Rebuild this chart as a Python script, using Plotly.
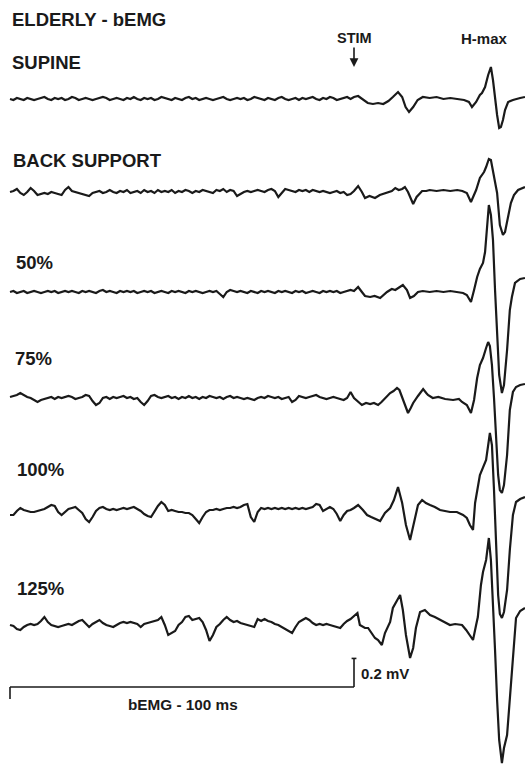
import plotly.graph_objects as go

# ---------------- data (time in ms, amplitude in microvolts) ----------------
TRACE_NAMES = ["SUPINE", "BACK SUPPORT", "50%", "75%", "100%", "125%"]
LABEL_TEXTS = ["<b>SUPINE</b>", "<b>BACK SUPPORT</b>", "<b>50%</b>", "<b>75%</b>", "<b>100%</b>", "<b>125%</b>"]

# pre-stimulus background EMG, sampled every 1 ms from 0 to 100 ms
PRE_T = [0, 1, 2, 3, 4, 5, 6, 7, 8, 9,
         10, 11, 12, 13, 14, 15, 16, 17, 18, 19,
         20, 21, 22, 23, 24, 25, 26, 27, 28, 29,
         30, 31, 32, 33, 34, 35, 36, 37, 38, 39,
         40, 41, 42, 43, 44, 45, 46, 47, 48, 49,
         50, 51, 52, 53, 54, 55, 56, 57, 58, 59,
         60, 61, 62, 63, 64, 65, 66, 67, 68, 69,
         70, 71, 72, 73, 74, 75, 76, 77, 78, 79,
         80, 81, 82, 83, 84, 85, 86, 87, 88, 89,
         90, 91, 92, 93, 94, 95, 96, 97, 98, 99,
         100]

supine_pre = [0, -7, 7, 0, -7, 7, 0, -7, 0, 7,
              14, 0, -7, 7, 0, 7, -7, 0, 14, 7,
              -7, 0, 7, 0, -7, 0, 7, 14, 7, -7,
              0, 7, 0, -7, 7, 0, 14, 0, -7, 7,
              0, 7, -7, 0, 14, 7, 0, -7, 7, 0,
              -7, 7, 14, 0, 7, -7, 0, 7, 0, -7,
              0, 7, 14, 0, -7, 0, 7, 0, 7, -7,
              0, 14, 7, 0, -7, 7, 0, -7, 7, 14,
              0, -7, 0, 7, -7, 7, 0, 7, 14, 0,
              -7, 7, 0, 14, 7, -7, 0, 7, 14, 0,
              14]
supine_post_t = [101.2, 102.5, 104, 105.5, 107, 108.5, 110, 111.3, 112.8, 114, 115, 116, 117.2, 118.5,
                 120, 122, 124, 126, 128, 130, 132, 133.4, 134.3, 135.5, 136.6, 137.2, 138.1, 139,
                 139.8, 140.4, 141, 141.6, 142.2, 142.7, 143.3, 143.9, 144.8, 146.2, 148.3, 149.7]
supine_post_v = [21, 0, -28, -35, -28, -35, -14, 14, 49, 14, -56, -91, -56, -7,
                 14, 7, 14, 0, 7, 0, -7, -21, -56, -21, 28, 42, 84, 168,
                 224, 133, -7, -112, -203, -196, -147, -77, -21, -7, 7, 14]

back_pre = [0, 7, 21, -7, -21, 0, 28, 7, -21, -14,
            -7, -14, 0, -7, -14, -21, 14, 35, 7, 0,
            -7, -14, -21, -28, -7, 0, 7, -7, 0, 14,
            0, -7, 7, 0, 14, -7, 0, 7, -7, 14,
            0, 7, -7, 14, 0, 7, 0, 14, -7, 7,
            0, 14, 7, -7, 7, 0, 14, 7, 0, -7,
            14, 7, 21, 0, 14, 7, -28, -14, 0, 7,
            0, 7, 14, 7, 0, 14, 21, 7, -35, -7,
            21, 14, 7, 0, 14, 7, 14, 0, 14, 7,
            0, 7, 0, -7, 0, 7, -7, 0, -21, -14,
            7]
back_post_t = [101.2, 102.3, 103.2, 104.5, 106.1, 107.5, 109.6, 111, 112, 113, 114, 114.8, 115.7,
               116.5, 117.2, 118.2, 119.8, 121, 122, 124, 126, 128, 130, 131.5, 132.8, 134, 135.5,
               136.6, 137.8, 138.4, 139.2, 139.8, 140.7, 141.6, 142.4, 143.3, 143.9, 144.8, 145.6,
               146.5, 147.7, 149.7]
back_post_v = [42, 0, -42, -28, -42, -21, -7, 7, 28, 14, 21, 35, 0,
               -49, -84, -35, 7, 7, 14, 7, 14, 7, 14, 7, -7, -70, 14,
               98, 140, 175, 231, 224, 119, -7, -231, -301, -280, -175, -77,
               -21, 14, 35]

p50_pre = [0, 7, -7, 0, 7, -7, 0, 7, 0, -7,
           0, 7, 0, 7, -7, 0, 7, 0, 7, 0,
           -7, 7, 0, 7, 0, -7, 7, 14, 0, 7,
           0, -7, 7, 0, 7, 0, 7, -7, 0, 7,
           0, 7, -7, 0, 7, 0, -7, 7, 0, 7,
           0, -7, 7, 0, 7, 0, -7, 0, 7, 0,
           7, -14, -35, 0, 14, 7, 0, 7, 0, -7,
           7, 0, -7, 7, 0, 7, 0, -7, 7, 0,
           7, 0, -7, 7, 0, 7, -7, 0, 7, 0,
           -7, 7, 0, 7, 0, 7, -7, 0, 7, 14,
           7]
p50_post_t = [101.2, 102.3, 103.2, 104.7, 106, 107.6, 108.5, 109.6, 110.5, 111, 112, 112.8, 114.2,
              115.4, 116.3, 117.4, 118.6, 120, 122, 124, 126, 128, 130, 131.7, 132.8, 134, 134.9,
              135.8, 136.6, 137.5, 138.1, 138.7, 139.2, 139.8, 140.4, 141, 141.6, 142.2, 143, 143.6,
              144.5, 145.3, 145.9, 146.8, 148.3, 149.7]
p50_post_v = [35, 0, -28, -35, -28, -42, -21, 0, 14, 21, 14, 28, 49,
              14, -42, -28, 0, 7, 0, 7, 0, 7, 0, -7, -21, -70, 14,
              105, 161, 203, 280, 448, 609, 539, 364, 14, -301, -581, -707, -651,
              -406, -126, -35, 63, 91, 98]

p75_pre = [7, 14, 21, 35, 21, 7, 0, -14, -28, -14,
           -7, 0, 7, -7, 7, 0, 7, 14, 7, -7,
           0, 7, 21, 14, -21, -49, -35, 0, 7, -7,
           7, 0, 7, 14, 0, 7, -7, 0, -28, -49,
           -21, 14, 21, 7, 0, 7, 14, 0, 7, -7,
           7, 0, 14, 0, 7, -7, 7, 0, 14, 7,
           0, 7, -7, 7, 14, 0, 7, 0, -7, 0,
           -7, -14, 0, 7, 0, 14, 7, 0, 7, -7,
           0, 7, -28, -14, 14, 7, 0, 7, 14, 21,
           7, 0, -7, 0, 7, 0, -7, -14, 0, 42,
           0]
p75_post_t = [101.2, 102.3, 103.5, 104.7, 105.8, 107, 108, 109, 110.5, 111.5, 112.5, 113.2, 114, 115,
              115.7, 116.5, 117.2, 118.6, 120.1, 121, 121.5, 122.9, 124.5, 126.5, 128.8, 130.5, 131.4,
              132.8, 134, 134.9, 135.8, 136.6, 137.5, 138.4, 139, 139.5, 140.1, 140.7, 141.3, 141.9,
              142.4, 143, 143.6, 144.5, 145.3, 146.2, 147.1, 148.3, 149.7]
p75_post_v = [-28, -49, -35, -42, -35, -49, -28, 0, 35, 49, 70, 56, 0, -70,
              -105, -70, -35, 14, 63, 35, 21, 0, 7, -7, -14, -7, -28,
              -49, -105, -14, 140, 231, 280, 350, 392, 364, 231, 0, -294, -539,
              -644, -665, -609, -399, -84, 42, 77, 91, 98]

p100_pre = [-14, -14, 14, 35, 21, 14, 7, 7, 14, 21,
            28, 42, 56, 49, 7, -14, 7, 28, 35, 42,
            21, 0, -42, -63, -28, 14, 35, 42, 28, 21,
            28, 21, 28, 35, 28, 35, 42, 28, 14, -7,
            -21, -28, 14, 49, 77, 56, 14, 21, 14, 7,
            7, 0, 0, -14, -42, -70, -28, 7, 21, 21,
            28, 21, 28, 35, 35, 42, 35, 42, 56, 63,
            -28, -63, 7, 35, 28, 35, 28, 35, 28, 35,
            28, 35, 28, 35, 28, 35, 28, 35, 42, 63,
            56, 14, 28, 42, 28, -7, -56, -14, 14, 21,
            35]
p100_post_t = [101.2, 102.6, 103.8, 105, 105.8, 107.6, 109, 110.5, 111.6, 112.8, 114, 115.1, 116.3,
               117.4, 118.6, 119.8, 120.9, 122.1, 123.5, 125, 126.5, 127.9, 129.9, 131.7, 132.8, 133.7,
               134.6, 135.2, 136.6, 137.5, 138.4, 139.5, 140.1, 140.7, 141.3, 141.9, 142.4, 143, 143.6,
               144.5, 145.3, 146.2, 147.1, 148.3, 149.7]
p100_post_v = [56, 21, -14, -28, -35, -56, 0, 35, 91, 182, 70, -84, -189,
               -70, 56, 91, 70, 56, 42, 21, 14, 7, 7, -14, -35, -84,
               -119, 70, 266, 315, 371, 560, 476, 161, -224, -574, -707, -735, -693,
               -539, -259, -14, 77, 98, 112]

p125_pre = [0, -7, -28, -35, -14, 0, 7, 0, 7, 28,
            56, 21, 0, -7, -14, -7, 0, 7, 0, 14,
            28, 35, 7, -14, 7, 21, 35, 14, 0, -7,
            -14, 0, 14, 21, 14, 21, 14, 7, -14, 7,
            14, 21, 28, 35, 56, 0, -70, -56, -42, 0,
            21, 56, 63, 35, 42, 49, 21, -35, -112, -70,
            -14, 7, 35, 56, 35, 21, 28, 14, 7, 0,
            -7, -14, 42, 28, 42, 28, 21, 7, 0, -14,
            -28, -42, -56, -14, 21, 35, 49, 35, 14, 0,
            7, 0, 7, 0, -7, -14, -21, 7, 28, 42,
            63]
p125_post_t = [101, 101.7, 103.2, 104.1, 105, 106.1, 107, 108.1, 109, 110.5, 111.3, 112.2, 113.4, 114.2,
               115.1, 116.3, 117.2, 118, 119.2, 120.6, 122.1, 123.5, 125, 126.5, 127.9, 129.4, 131.4,
               132.6, 133.7, 134.6, 135.5, 136, 136.9, 137.5, 138.4, 139.2, 139.8, 140.4, 141, 141.6,
               142.2, 143, 143.6, 144.5, 145.3, 145.9, 146.5, 147.1, 148.3, 149.7]
p125_post_v = [84, 0, -21, -21, -49, -91, -105, -140, -56, 21, 119, 154, 210, 105,
               -70, -231, -161, -21, 91, 105, 70, 56, 35, 14, 0, 7, 0,
               -35, -70, -105, 0, 56, 280, 371, 455, 609, 455, 175, -175, -525,
               -805, -966, -861, -770, -525, -350, -105, 49, 98, 119]

PRE_VALUES = [supine_pre, back_pre, p50_pre, p75_pre, p100_pre, p125_pre]
POST_TIMES = [supine_post_t, back_post_t, p50_post_t, p75_post_t, p100_post_t, p125_post_t]
POST_VALUES = [supine_post_v, back_post_v, p50_post_v, p75_post_v, p100_post_v, p125_post_v]

# ---------------- layout constants (positions/styles) ----------------
W, H = 525, 765
PX_PER_MS = 3.44
UV_PER_PX = 7.0
X_LEFT_PX = 10
X_RANGE = [-X_LEFT_PX / PX_PER_MS, (W - X_LEFT_PX) / PX_PER_MS]
Y_RANGE = [-H * UV_PER_PX, 0]
BASELINE_PX = [99, 192, 292, 398, 513, 625]
LABEL_PX = [(12, 62), (13, 160), (16, 262), (15, 358), (17, 469), (17, 588)]
LINE_COLOR = "#1a1a1a"
FONT = "Liberation Sans, Arial, Helvetica, sans-serif"

STIM_MS = 100
SCALE_T = [0, 100]
SCALE_UV = 200
SCALE_BAR_PX = 687

fig = go.Figure()

for name, pre, pt, pv, bpx in zip(TRACE_NAMES, PRE_VALUES, POST_TIMES, POST_VALUES, BASELINE_PX):
    offset = -bpx * UV_PER_PX
    t = list(PRE_T) + list(pt)
    v = [val + offset for val in list(pre) + list(pv)]
    fig.add_trace(go.Scatter(x=t, y=v, mode="lines", name=name,
                             line=dict(color=LINE_COLOR, width=2.2), hoverinfo="skip"))


def px_to_paper(xp, yp):
    return xp / W, 1 - yp / H


annotations = []


def add_text(text, xp, yp, size, xanchor="left"):
    x, y = px_to_paper(xp, yp)
    annotations.append(dict(text=text, x=x, y=y, xref="paper", yref="paper",
                            xanchor=xanchor, yanchor="middle", showarrow=False,
                            borderpad=0, borderwidth=0,
                            font=dict(family=FONT, size=size, color="#1a1a1a")))


add_text("<b>ELDERLY - bEMG</b>", 12, 19, 18.5)
for lab, (lx, ly) in zip(LABEL_TEXTS, LABEL_PX):
    add_text(lab, lx, ly, 18.5)
add_text("<b>STIM</b>", 354.5, 38, 14.5, xanchor="center")
add_text("<b>H-max</b>", 484.5, 38, 15, xanchor="center")
add_text("<b>0.2 mV</b>", 361, 673, 15)
add_text("<b>bEMG - 100 ms</b>", 183, 704, 15.3, xanchor="center")

# STIM arrow
annotations.append(dict(x=STIM_MS, y=-67 * UV_PER_PX, xref="x", yref="y",
                        ax=0, ay=-21, axref="pixel", ayref="pixel",
                        text="", showarrow=True, arrowhead=2, arrowsize=1.1,
                        arrowwidth=1.6, arrowcolor=LINE_COLOR))

bar_y = -SCALE_BAR_PX * UV_PER_PX
shapes = [
    # horizontal time bar
    dict(type="line", xref="x", yref="y", x0=SCALE_T[0], x1=SCALE_T[1], y0=bar_y, y1=bar_y,
         line=dict(color=LINE_COLOR, width=1.6)),
    # left tick
    dict(type="line", xref="x", yref="y", x0=SCALE_T[0], x1=SCALE_T[0], y0=bar_y,
         y1=bar_y - 12 * UV_PER_PX, line=dict(color=LINE_COLOR, width=1.6)),
    # vertical amplitude bar
    dict(type="line", xref="x", yref="y", x0=SCALE_T[1], x1=SCALE_T[1], y0=bar_y,
         y1=bar_y + SCALE_UV, line=dict(color=LINE_COLOR, width=1.6)),
    # cap of amplitude bar
    dict(type="line", xref="x", yref="y", x0=SCALE_T[1] - 0.7, x1=SCALE_T[1] + 0.7,
         y0=bar_y + SCALE_UV, y1=bar_y + SCALE_UV, line=dict(color=LINE_COLOR, width=1.6)),
]

fig.update_layout(
    width=W, height=H,
    margin=dict(l=0, r=0, t=0, b=0, pad=0),
    paper_bgcolor="white", plot_bgcolor="white",
    showlegend=False,
    xaxis=dict(range=X_RANGE, visible=False, fixedrange=True),
    yaxis=dict(range=Y_RANGE, visible=False, fixedrange=True),
    annotations=annotations, shapes=shapes,
    font=dict(family=FONT),
)

fig.write_html("out.html", config={"displayModeBar": False},
               post_script="document.body.style.margin='0';")
